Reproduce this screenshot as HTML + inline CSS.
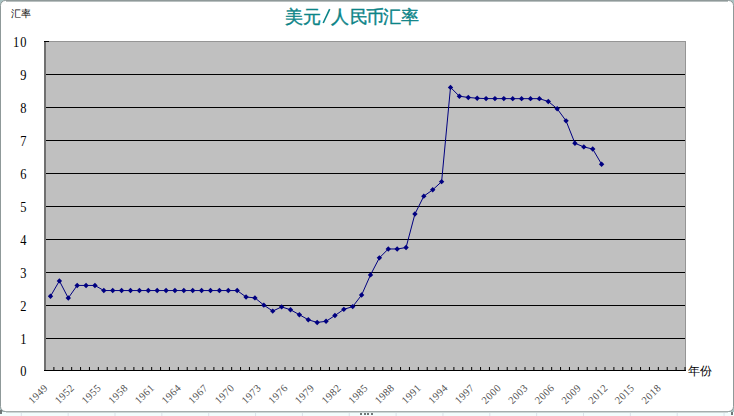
<!DOCTYPE html>
<html><head><meta charset="utf-8"><style>
html,body{margin:0;padding:0;width:734px;height:416px;overflow:hidden;background:#f2fdfd;}
svg{position:absolute;left:0;top:0;}
</style></head><body>
<svg width="734" height="416" viewBox="0 0 734 416">
<g fill="#d9e2ea"><rect x="20.80" y="412" width="1" height="4"/><rect x="67.65" y="412" width="1" height="4"/><rect x="114.50" y="412" width="1" height="4"/><rect x="161.35" y="412" width="1" height="4"/><rect x="208.20" y="412" width="1" height="4"/><rect x="255.05" y="412" width="1" height="4"/><rect x="301.90" y="412" width="1" height="4"/><rect x="348.75" y="412" width="1" height="4"/><rect x="395.60" y="412" width="1" height="4"/><rect x="442.45" y="412" width="1" height="4"/><rect x="489.30" y="412" width="1" height="4"/><rect x="536.15" y="412" width="1" height="4"/><rect x="583.00" y="412" width="1" height="4"/><rect x="629.85" y="412" width="1" height="4"/><rect x="676.70" y="412" width="1" height="4"/><rect x="723.55" y="412" width="1" height="4"/></g>
<g fill="#a9c2c2"><rect x="0" y="0" width="7" height="7"/><rect x="727" y="0" width="7" height="7"/><rect x="0" y="405" width="7" height="7"/><rect x="727" y="405" width="7" height="7"/></g>
<rect x="0.5" y="0.5" width="733" height="411" rx="5" ry="5" fill="#ffffff" stroke="#8f9999" stroke-width="1"/>
<rect x="6" y="1" width="722" height="1" fill="#b9c0c0"/>
<rect x="6" y="411" width="722" height="1" fill="#a4adad"/>
<rect x="6" y="412" width="722" height="1" fill="#cdd6d6"/>
<g fill="#6f7777"><rect x="731" y="412" width="2" height="3"/><rect x="0" y="410" width="2" height="4"/><rect x="360" y="413" width="2" height="2"/><rect x="364" y="413" width="2" height="2"/><rect x="367" y="413" width="2" height="2"/><rect x="371" y="413" width="2" height="2"/></g>
<g font-family="Liberation Sans, sans-serif" font-size="17.5" fill="#0b8487" stroke="#0b8487" stroke-width="0.4" text-anchor="middle"><text x="293.5" y="22.6">美</text><text x="312.4" y="22.6">元</text><text x="339.6" y="22.6">人</text><text x="359.0" y="22.6">民</text><text x="374.7" y="22.6">币</text><text x="392.2" y="22.6">汇</text><text x="409.5" y="22.6">率</text></g>
<line x1="323.2" y1="23.0" x2="329.7" y2="9.2" stroke="#0b8487" stroke-width="1.6"/>
<text x="10.7" y="17.3" font-family="Liberation Sans, sans-serif" font-size="10.2" fill="#000">汇率</text>
<text x="687.6" y="374.8" font-family="Liberation Sans, sans-serif" font-size="12" font-weight="300" fill="#000">年份</text>
<rect x="44" y="41" width="642" height="330" fill="#c0c0c0"/>
<rect x="44.5" y="41.5" width="641" height="329" fill="none" stroke="#959595" stroke-width="1"/>
<g fill="#000"><rect x="46" y="74" width="639" height="1"/><rect x="46" y="107" width="639" height="1"/><rect x="46" y="140" width="639" height="1"/><rect x="46" y="173" width="639" height="1"/><rect x="46" y="206" width="639" height="1"/><rect x="46" y="239" width="639" height="1"/><rect x="46" y="272" width="639" height="1"/><rect x="46" y="305" width="639" height="1"/><rect x="46" y="338" width="639" height="1"/></g>
<rect x="44" y="41" width="2" height="330" fill="#707070"/>
<rect x="44" y="41" width="5" height="1" fill="#000"/>
<rect x="44" y="370" width="642" height="1" fill="#000"/>
<g fill="#000"><rect x="53.39" y="367" width="1" height="3"/><rect x="62.28" y="367" width="1" height="3"/><rect x="71.17" y="367" width="1" height="3"/><rect x="80.06" y="367" width="1" height="3"/><rect x="88.94" y="367" width="1" height="3"/><rect x="97.83" y="367" width="1" height="3"/><rect x="106.72" y="367" width="1" height="3"/><rect x="115.61" y="367" width="1" height="3"/><rect x="124.50" y="367" width="1" height="3"/><rect x="133.39" y="367" width="1" height="3"/><rect x="142.28" y="367" width="1" height="3"/><rect x="151.17" y="367" width="1" height="3"/><rect x="160.06" y="367" width="1" height="3"/><rect x="168.94" y="367" width="1" height="3"/><rect x="177.83" y="367" width="1" height="3"/><rect x="186.72" y="367" width="1" height="3"/><rect x="195.61" y="367" width="1" height="3"/><rect x="204.50" y="367" width="1" height="3"/><rect x="213.39" y="367" width="1" height="3"/><rect x="222.28" y="367" width="1" height="3"/><rect x="231.17" y="367" width="1" height="3"/><rect x="240.06" y="367" width="1" height="3"/><rect x="248.94" y="367" width="1" height="3"/><rect x="257.83" y="367" width="1" height="3"/><rect x="266.72" y="367" width="1" height="3"/><rect x="275.61" y="367" width="1" height="3"/><rect x="284.50" y="367" width="1" height="3"/><rect x="293.39" y="367" width="1" height="3"/><rect x="302.28" y="367" width="1" height="3"/><rect x="311.17" y="367" width="1" height="3"/><rect x="320.06" y="367" width="1" height="3"/><rect x="328.94" y="367" width="1" height="3"/><rect x="337.83" y="367" width="1" height="3"/><rect x="346.72" y="367" width="1" height="3"/><rect x="355.61" y="367" width="1" height="3"/><rect x="364.50" y="367" width="1" height="3"/><rect x="373.39" y="367" width="1" height="3"/><rect x="382.28" y="367" width="1" height="3"/><rect x="391.17" y="367" width="1" height="3"/><rect x="400.06" y="367" width="1" height="3"/><rect x="408.94" y="367" width="1" height="3"/><rect x="417.83" y="367" width="1" height="3"/><rect x="426.72" y="367" width="1" height="3"/><rect x="435.61" y="367" width="1" height="3"/><rect x="444.50" y="367" width="1" height="3"/><rect x="453.39" y="367" width="1" height="3"/><rect x="462.28" y="367" width="1" height="3"/><rect x="471.17" y="367" width="1" height="3"/><rect x="480.06" y="367" width="1" height="3"/><rect x="488.94" y="367" width="1" height="3"/><rect x="497.83" y="367" width="1" height="3"/><rect x="506.72" y="367" width="1" height="3"/><rect x="515.61" y="367" width="1" height="3"/><rect x="524.50" y="367" width="1" height="3"/><rect x="533.39" y="367" width="1" height="3"/><rect x="542.28" y="367" width="1" height="3"/><rect x="551.17" y="367" width="1" height="3"/><rect x="560.06" y="367" width="1" height="3"/><rect x="568.94" y="367" width="1" height="3"/><rect x="577.83" y="367" width="1" height="3"/><rect x="586.72" y="367" width="1" height="3"/><rect x="595.61" y="367" width="1" height="3"/><rect x="604.50" y="367" width="1" height="3"/><rect x="613.39" y="367" width="1" height="3"/><rect x="622.28" y="367" width="1" height="3"/><rect x="631.17" y="367" width="1" height="3"/><rect x="640.06" y="367" width="1" height="3"/><rect x="648.94" y="367" width="1" height="3"/><rect x="657.83" y="367" width="1" height="3"/><rect x="666.72" y="367" width="1" height="3"/><rect x="675.61" y="367" width="1" height="3"/><rect x="684.50" y="367" width="1" height="3"/></g>
<polyline points="50.50,296.23 59.39,280.88 68.28,298.05 77.17,285.44 86.06,285.44 94.94,285.44 103.83,290.56 112.72,290.56 121.61,290.56 130.50,290.56 139.39,290.56 148.28,290.56 157.17,290.56 166.06,290.56 174.94,290.56 183.83,290.56 192.72,290.56 201.61,290.56 210.50,290.56 219.39,290.56 228.28,290.56 237.17,290.56 246.06,296.98 254.94,297.88 263.83,305.13 272.72,311.09 281.61,306.91 290.50,309.75 299.39,314.71 308.28,319.76 317.17,322.43 326.06,321.30 334.94,315.53 343.83,309.34 352.72,306.60 361.61,295.01 370.50,274.89 379.39,257.86 388.28,248.97 397.17,248.97 406.06,247.55 414.94,213.95 423.83,196.13 432.72,189.82 441.61,181.65 450.50,87.38 459.39,96.22 468.28,97.43 477.17,98.24 486.06,98.59 494.94,98.62 503.83,98.61 512.72,98.66 521.61,98.66 530.50,98.66 539.39,98.67 548.28,101.47 557.17,108.73 566.06,120.87 574.94,143.28 583.83,146.91 592.72,149.05 601.61,164.23" fill="none" stroke="#000080" stroke-width="1"/>
<g fill="#000080"><path d="M50.50 293.53L53.20 296.23L50.50 298.93L47.80 296.23Z"/><path d="M59.39 278.19L62.09 280.88L59.39 283.58L56.69 280.88Z"/><path d="M68.28 295.35L70.98 298.05L68.28 300.75L65.58 298.05Z"/><path d="M77.17 282.74L79.87 285.44L77.17 288.14L74.47 285.44Z"/><path d="M86.06 282.74L88.76 285.44L86.06 288.14L83.36 285.44Z"/><path d="M94.94 282.74L97.64 285.44L94.94 288.14L92.24 285.44Z"/><path d="M103.83 287.86L106.53 290.56L103.83 293.26L101.13 290.56Z"/><path d="M112.72 287.86L115.42 290.56L112.72 293.26L110.02 290.56Z"/><path d="M121.61 287.86L124.31 290.56L121.61 293.26L118.91 290.56Z"/><path d="M130.50 287.86L133.20 290.56L130.50 293.26L127.80 290.56Z"/><path d="M139.39 287.86L142.09 290.56L139.39 293.26L136.69 290.56Z"/><path d="M148.28 287.86L150.98 290.56L148.28 293.26L145.58 290.56Z"/><path d="M157.17 287.86L159.87 290.56L157.17 293.26L154.47 290.56Z"/><path d="M166.06 287.86L168.76 290.56L166.06 293.26L163.36 290.56Z"/><path d="M174.94 287.86L177.64 290.56L174.94 293.26L172.24 290.56Z"/><path d="M183.83 287.86L186.53 290.56L183.83 293.26L181.13 290.56Z"/><path d="M192.72 287.86L195.42 290.56L192.72 293.26L190.02 290.56Z"/><path d="M201.61 287.86L204.31 290.56L201.61 293.26L198.91 290.56Z"/><path d="M210.50 287.86L213.20 290.56L210.50 293.26L207.80 290.56Z"/><path d="M219.39 287.86L222.09 290.56L219.39 293.26L216.69 290.56Z"/><path d="M228.28 287.86L230.98 290.56L228.28 293.26L225.58 290.56Z"/><path d="M237.17 287.86L239.87 290.56L237.17 293.26L234.47 290.56Z"/><path d="M246.06 294.28L248.76 296.98L246.06 299.68L243.36 296.98Z"/><path d="M254.94 295.18L257.64 297.88L254.94 300.58L252.24 297.88Z"/><path d="M263.83 302.43L266.53 305.13L263.83 307.83L261.13 305.13Z"/><path d="M272.72 308.39L275.42 311.09L272.72 313.79L270.02 311.09Z"/><path d="M281.61 304.21L284.31 306.91L281.61 309.61L278.91 306.91Z"/><path d="M290.50 307.05L293.20 309.75L290.50 312.45L287.80 309.75Z"/><path d="M299.39 312.01L302.09 314.71L299.39 317.41L296.69 314.71Z"/><path d="M308.28 317.06L310.98 319.76L308.28 322.46L305.58 319.76Z"/><path d="M317.17 319.73L319.87 322.43L317.17 325.13L314.47 322.43Z"/><path d="M326.06 318.60L328.76 321.30L326.06 324.00L323.36 321.30Z"/><path d="M334.94 312.83L337.64 315.53L334.94 318.23L332.24 315.53Z"/><path d="M343.83 306.64L346.53 309.34L343.83 312.04L341.13 309.34Z"/><path d="M352.72 303.90L355.42 306.60L352.72 309.30L350.02 306.60Z"/><path d="M361.61 292.31L364.31 295.01L361.61 297.71L358.91 295.01Z"/><path d="M370.50 272.19L373.20 274.89L370.50 277.59L367.80 274.89Z"/><path d="M379.39 255.16L382.09 257.86L379.39 260.56L376.69 257.86Z"/><path d="M388.28 246.27L390.98 248.97L388.28 251.67L385.58 248.97Z"/><path d="M397.17 246.27L399.87 248.97L397.17 251.67L394.47 248.97Z"/><path d="M406.06 244.85L408.76 247.55L406.06 250.25L403.36 247.55Z"/><path d="M414.94 211.25L417.64 213.95L414.94 216.65L412.24 213.95Z"/><path d="M423.83 193.43L426.53 196.13L423.83 198.83L421.13 196.13Z"/><path d="M432.72 187.12L435.42 189.82L432.72 192.52L430.02 189.82Z"/><path d="M441.61 178.95L444.31 181.65L441.61 184.35L438.91 181.65Z"/><path d="M450.50 84.68L453.20 87.38L450.50 90.08L447.80 87.38Z"/><path d="M459.39 93.52L462.09 96.22L459.39 98.92L456.69 96.22Z"/><path d="M468.28 94.73L470.98 97.43L468.28 100.13L465.58 97.43Z"/><path d="M477.17 95.54L479.87 98.24L477.17 100.94L474.47 98.24Z"/><path d="M486.06 95.89L488.76 98.59L486.06 101.29L483.36 98.59Z"/><path d="M494.94 95.92L497.64 98.62L494.94 101.32L492.24 98.62Z"/><path d="M503.83 95.91L506.53 98.61L503.83 101.31L501.13 98.61Z"/><path d="M512.72 95.96L515.42 98.66L512.72 101.36L510.02 98.66Z"/><path d="M521.61 95.96L524.31 98.66L521.61 101.36L518.91 98.66Z"/><path d="M530.50 95.96L533.20 98.66L530.50 101.36L527.80 98.66Z"/><path d="M539.39 95.97L542.09 98.67L539.39 101.37L536.69 98.67Z"/><path d="M548.28 98.77L550.98 101.47L548.28 104.17L545.58 101.47Z"/><path d="M557.17 106.03L559.87 108.73L557.17 111.43L554.47 108.73Z"/><path d="M566.06 118.17L568.76 120.87L566.06 123.57L563.36 120.87Z"/><path d="M574.94 140.58L577.64 143.28L574.94 145.97L572.24 143.28Z"/><path d="M583.83 144.21L586.53 146.91L583.83 149.60L581.13 146.91Z"/><path d="M592.72 146.35L595.42 149.05L592.72 151.75L590.02 149.05Z"/><path d="M601.61 161.53L604.31 164.23L601.61 166.93L598.91 164.23Z"/></g>
<g font-family="Liberation Serif, serif" font-size="14.5" fill="#000" letter-spacing="1.2" text-anchor="end"><text transform="translate(27.5,375.6) scale(0.86,1)">0</text><text transform="translate(27.5,343.6) scale(0.86,1)">1</text><text transform="translate(27.5,310.6) scale(0.86,1)">2</text><text transform="translate(27.5,277.6) scale(0.86,1)">3</text><text transform="translate(27.5,244.6) scale(0.86,1)">4</text><text transform="translate(27.5,211.6) scale(0.86,1)">5</text><text transform="translate(27.5,178.6) scale(0.86,1)">6</text><text transform="translate(27.5,145.6) scale(0.86,1)">7</text><text transform="translate(27.5,112.6) scale(0.86,1)">8</text><text transform="translate(27.5,79.6) scale(0.86,1)">9</text><text transform="translate(27.5,46.6) scale(0.86,1)">10</text></g>
<g font-family="Liberation Serif, serif" font-size="10.5" fill="#505050" letter-spacing="0.4" text-anchor="end"><text transform="translate(48.44,388.5) rotate(-45)">1949</text><text transform="translate(75.11,388.5) rotate(-45)">1952</text><text transform="translate(101.78,388.5) rotate(-45)">1955</text><text transform="translate(128.44,388.5) rotate(-45)">1958</text><text transform="translate(155.11,388.5) rotate(-45)">1961</text><text transform="translate(181.78,388.5) rotate(-45)">1964</text><text transform="translate(208.44,388.5) rotate(-45)">1967</text><text transform="translate(235.11,388.5) rotate(-45)">1970</text><text transform="translate(261.78,388.5) rotate(-45)">1973</text><text transform="translate(288.44,388.5) rotate(-45)">1976</text><text transform="translate(315.11,388.5) rotate(-45)">1979</text><text transform="translate(341.78,388.5) rotate(-45)">1982</text><text transform="translate(368.44,388.5) rotate(-45)">1985</text><text transform="translate(395.11,388.5) rotate(-45)">1988</text><text transform="translate(421.78,388.5) rotate(-45)">1991</text><text transform="translate(448.44,388.5) rotate(-45)">1994</text><text transform="translate(475.11,388.5) rotate(-45)">1997</text><text transform="translate(501.78,388.5) rotate(-45)">2000</text><text transform="translate(528.44,388.5) rotate(-45)">2003</text><text transform="translate(555.11,388.5) rotate(-45)">2006</text><text transform="translate(581.78,388.5) rotate(-45)">2009</text><text transform="translate(608.44,388.5) rotate(-45)">2012</text><text transform="translate(635.11,388.5) rotate(-45)">2015</text><text transform="translate(661.78,388.5) rotate(-45)">2018</text></g>
</svg>
</body></html>
